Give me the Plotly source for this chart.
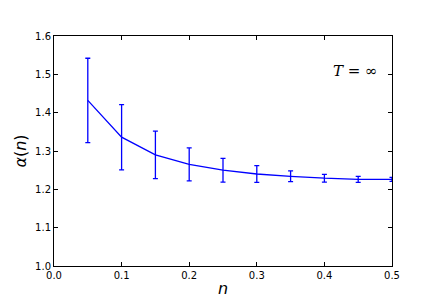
import plotly.graph_objects as go

n_vals = [0.05, 0.10, 0.15, 0.20, 0.25, 0.30, 0.35, 0.40, 0.45, 0.50]
alpha_vals = [1.432, 1.336, 1.290, 1.265, 1.250, 1.240, 1.234, 1.229, 1.226, 1.226]
alpha_err = [0.110, 0.085, 0.062, 0.043, 0.031, 0.022, 0.014, 0.010, 0.008, 0.005]

x_ticks = [0.0, 0.1, 0.2, 0.3, 0.4, 0.5]
y_ticks = [1.0, 1.1, 1.2, 1.3, 1.4, 1.5, 1.6]

fig = go.Figure()
fig.add_trace(go.Scatter(
    x=n_vals, y=alpha_vals, mode="lines",
    line=dict(color="#0000ff", width=1.3),
    error_y=dict(type="data", array=alpha_err, visible=True,
                 color="#0000ff", thickness=1.3, width=2.5),
    showlegend=False,
))

axis_common = dict(
    showline=True, linecolor="black", linewidth=1, mirror="allticks",
    ticks="inside", ticklen=4, tickcolor="black", showgrid=False, zeroline=False,
    automargin=False,
    tickfont=dict(family="DejaVu Sans", size=10, color="black"),
)
fig.update_xaxes(range=[0, 0.5], tickvals=x_ticks,
                 ticktext=[f"{v:.1f}" for v in x_ticks],
                 title=dict(text="<i>n</i>", font=dict(family="DejaVu Sans", size=16, color="black"), standoff=2),
                 **axis_common)
fig.update_yaxes(range=[1.0, 1.6], tickvals=y_ticks,
                 ticktext=[f"{v:.1f}" for v in y_ticks],
                 title=dict(text="<i>α</i>(<i>n</i>)", font=dict(family="DejaVu Sans", size=16, color="black"), standoff=4),
                 **axis_common)

fig.add_annotation(x=0.482, y=1.51, xref="x", yref="y", showarrow=False,
                   text="<i>T</i> = ∞", xanchor="right",
                   font=dict(family="DejaVu Serif", size=15, color="black"))

fig.update_layout(
    width=428, height=291,
    margin=dict(l=46, r=44, t=28, b=33),
    paper_bgcolor="white", plot_bgcolor="white",
)
fig.write_html("out.html")
